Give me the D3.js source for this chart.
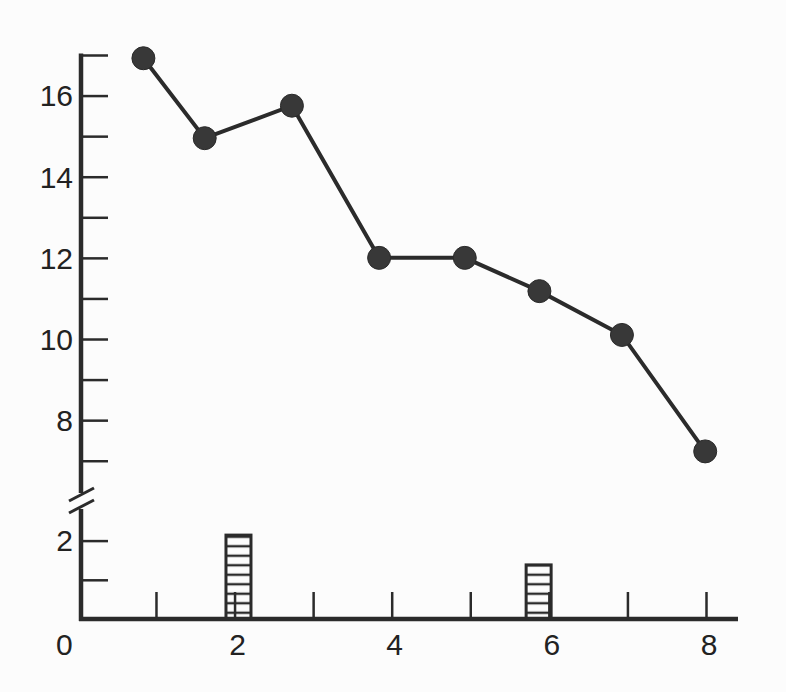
<!DOCTYPE html>
<html>
<head>
<meta charset="utf-8">
<script src="https://cdn.jsdelivr.net/npm/d3@7"></script>
<style>
  html, body { margin: 0; padding: 0; background: #fcfcfc; }
  svg { display: block; }
  text { font-family: "Liberation Sans", Arial, sans-serif; fill: #222; }
</style>
</head>
<body>
<svg id="chart" width="786" height="692"></svg>
<script>
// ---- data ----
const lineX = [0.84, 1.62, 2.73, 3.84, 4.93, 5.88, 6.93, 7.99];
const lineY = [16.92, 14.95, 15.75, 12.0, 12.0, 11.18, 10.1, 7.23];
const barX = [2.05, 5.87];
const barY = [2.14, 1.38];
const xTicks = [1, 2, 3, 4, 5, 6, 7, 8];
const xTickLabels = [0, 2, 4, 6, 8];
const yUpperTicks = [7, 8, 9, 10, 11, 12, 13, 14, 15, 16, 17];
const yUpperLabels = [8, 10, 12, 14, 16];
const yLowerTicks = [1, 2];
const yLowerLabels = [2];

const ink = "#2b2b2b";
const svg = d3.select("#chart");

const x = d3.scaleLinear().domain([0, 8]).range([77.4, 706]);
const yUp = d3.scaleLinear().domain([6, 17]).range([501.3, 55]);
const yLo = d3.scaleLinear().domain([0, 2]).range([619, 540.6]);
const axisX = 81;

// hatch pattern
const defs = svg.append("defs");
const pat = defs.append("pattern").attr("id", "hatch")
  .attr("patternUnits", "userSpaceOnUse").attr("width", 10).attr("height", 9.5);
pat.append("line").attr("x1", 0).attr("x2", 10).attr("y1", 4.75).attr("y2", 4.75)
  .attr("stroke", ink).attr("stroke-width", 2.4);

// bars
const barW = 25;
svg.append("g").selectAll("rect").data(barX).join("rect")
  .attr("x", (d) => x(d) - barW / 2)
  .attr("y", (d, i) => yLo(barY[i]))
  .attr("width", barW)
  .attr("height", (d, i) => yLo(0) - yLo(barY[i]))
  .attr("fill", "url(#hatch)")
  .attr("stroke", ink).attr("stroke-width", 3);

// y axis upper
const gUp = svg.append("g").attr("transform", `translate(${axisX},0)`)
  .call(d3.axisRight(yUp).tickValues(yUpperTicks).tickSize(27).tickFormat(""));
gUp.select(".domain").remove();
gUp.selectAll(".tick line").attr("stroke", ink).attr("stroke-width", 2.5);
svg.append("line").attr("x1", axisX).attr("x2", axisX)
  .attr("y1", yUp(17) - 1.5).attr("y2", 493)
  .attr("stroke", ink).attr("stroke-width", 4.5);

svg.append("g").selectAll("text").data(yUpperLabels).join("text")
  .attr("x", 73).attr("y", (d) => yUp(d)).attr("dy", "0.36em")
  .attr("text-anchor", "end").attr("font-size", 30).text((d) => d);

// y axis lower
const gLo = svg.append("g").attr("transform", `translate(${axisX},0)`)
  .call(d3.axisRight(yLo).tickValues(yLowerTicks).tickSize(27).tickFormat(""));
gLo.select(".domain").remove();
gLo.selectAll(".tick line").attr("stroke", ink).attr("stroke-width", 2.5);
svg.append("line").attr("x1", axisX).attr("x2", axisX)
  .attr("y1", 509).attr("y2", yLo(0) + 2)
  .attr("stroke", ink).attr("stroke-width", 4.5);
svg.append("g").selectAll("text").data(yLowerLabels).join("text")
  .attr("x", 73).attr("y", (d) => yLo(d)).attr("dy", "0.36em")
  .attr("text-anchor", "end").attr("font-size", 30).text((d) => d);

// break marks
[0, 12].forEach((off) => {
  svg.append("line").attr("x1", 69).attr("y1", 501 + off).attr("x2", 94).attr("y2", 488 + off)
    .attr("stroke", ink).attr("stroke-width", 3);
});

// x axis
const gX = svg.append("g").attr("transform", `translate(0,${yLo(0)})`)
  .call(d3.axisTop(x).tickValues(xTicks).tickSize(27).tickFormat(""));
gX.select(".domain").remove();
gX.selectAll(".tick line").attr("stroke", ink).attr("stroke-width", 2.5);
svg.append("line").attr("x1", axisX - 2).attr("x2", 738)
  .attr("y1", yLo(0)).attr("y2", yLo(0))
  .attr("stroke", ink).attr("stroke-width", 4.5);
svg.append("g").selectAll("text").data(xTickLabels).join("text")
  .attr("x", (d) => d === 0 ? x(d) - 13 : x(d) + 3)
  .attr("y", 655)
  .attr("text-anchor", "middle").attr("font-size", 30).text((d) => d);

// line + points
const pts = lineX.map((v, i) => [x(v), yUp(lineY[i])]);
svg.append("path").attr("d", d3.line()(pts))
  .attr("fill", "none").attr("stroke", ink).attr("stroke-width", 4);
svg.append("g").selectAll("circle").data(pts).join("circle")
  .attr("cx", (d) => d[0]).attr("cy", (d) => d[1]).attr("r", 11.5)
  .attr("fill", "#383838").attr("stroke", "#2a2a2a").attr("stroke-width", 1);
</script>
</body>
</html>
